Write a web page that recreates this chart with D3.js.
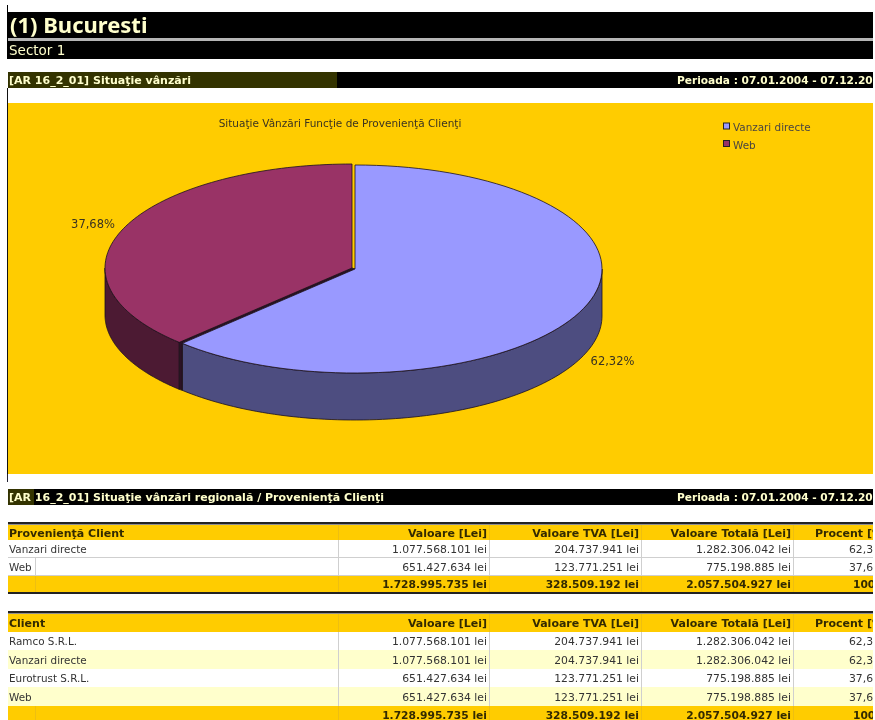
<!DOCTYPE html>
<html><head><meta charset="utf-8">
<script src="https://cdn.jsdelivr.net/npm/d3@7"></script>
<style>html,body{margin:0;background:#fff}svg{display:block;filter:blur(.4px)}text{white-space:pre}</style>
</head><body><div id="c"></div>
<script>
const sliceNames = ["Vanzari directe", "Web"];
const sliceValues = [1077568101, 651427634];
const sliceLabels = ["62,32%", "37,68%"];
const topColors = ["#9999ff", "#993366"];
const wallColors = ["#4d4d80", "#4c1a33"];
const chartTitle = "Situaţie Vânzări Funcţie de Provenienţă Clienţi";
const columnHeads = ["Valoare [Lei]", "Valoare TVA [Lei]", "Valoare Totală [Lei]", "Procent [%]"];
const table1Head = "Provenienţă Client";
const table1Rows = [
  ["Vanzari directe", "1.077.568.101 lei", "204.737.941 lei", "1.282.306.042 lei", "62,32%"],
  ["Web", "651.427.634 lei", "123.771.251 lei", "775.198.885 lei", "37,68%"]
];
const table2Head = "Client";
const table2Rows = [
  ["Ramco S.R.L.", "1.077.568.101 lei", "204.737.941 lei", "1.282.306.042 lei", "62,32%"],
  ["Vanzari directe", "1.077.568.101 lei", "204.737.941 lei", "1.282.306.042 lei", "62,32%"],
  ["Eurotrust S.R.L.", "651.427.634 lei", "123.771.251 lei", "775.198.885 lei", "37,68%"],
  ["Web", "651.427.634 lei", "123.771.251 lei", "775.198.885 lei", "37,68%"]
];
const totals = ["1.728.995.735 lei", "328.509.192 lei", "2.057.504.927 lei", "100,00%"];
const period = "Perioada : 07.01.2004 - 07.12.2004";

const W = 875, H = 720, R = 873, L = 8;
const svg = d3.select("#c").append("svg").attr("width", W).attr("height", H);
svg.append("defs").append("clipPath").attr("id", "page").append("rect")
  .attr("x", 0).attr("y", 0).attr("width", R).attr("height", H);
const g = svg.append("g").attr("clip-path", "url(#page)");
const dv = "'DejaVu Sans',Verdana,sans-serif";

function rect(x, y, w, h, fill) {
  g.append("rect").attr("x", x).attr("y", y).attr("width", w).attr("height", h).attr("fill", fill);
}
function vline(x, y1, y2, c) { rect(x, y1, 1, y2 - y1, c); }
function text(t, x, y, o = {}) {
  return g.append("text").attr("x", x).attr("y", y).text(t)
    .attr("font-family", o.family || dv).attr("font-size", o.size || 10.4)
    .attr("font-weight", o.weight || "normal").attr("fill", o.fill || "#333")
    .attr("text-anchor", o.anchor || "start");
}

// Header bands
vline(7, 5, 59, "#000");
rect(L, 12, W, 26, "#000");
rect(L, 38, W, 3, "#b5b5b5");
rect(L, 41, W, 18, "#000");
text("(1) Bucuresti", 10, 33, {family: "'Noto Sans',sans-serif", weight: "bold", size: 22, fill: "#ffffcc"});
text("Sector 1", 9, 55, {size: 13.5, fill: "#ffffcc"});

const bandStyle = {weight: "bold", size: 11, fill: "#ffffcc"};
const periodStyle = {weight: "bold", size: 10.6, fill: "#ffffcc"};
rect(L, 72, W, 16, "#000");
rect(L, 72, 329, 16, "#333300");
text("[AR 16_2_01] Situaţie vânzări", 9, 84, bandStyle);
text(period, 677, 84, periodStyle);

// Chart panel
vline(7, 88, 476, "#111");
rect(L, 103, R - L, 371, "#ffcc00");
text(chartTitle, 340, 127, {anchor: "middle", size: 10.5, fill: "#3a3320"});

// 3D pie
const rx = 247, ry = 104, depth = 47;
const cx = 355, cy = 269;
const offs = [[0, 0], [-3, -1]];
const pie = d3.pie().sort(null).startAngle(0).endAngle(2 * Math.PI)(sliceValues);
const px = d3.scaleLinear().domain([-1, 1]).range([-rx, rx]);
const py = d3.scaleLinear().domain([-1, 1]).range([-ry, ry]);
const ptAt = (a, i, dz = 0) => [cx + offs[i][0] + px(Math.sin(a)), cy + offs[i][1] + py(-Math.cos(a)) + dz];
const line = d3.line();
function arcPts(a0, a1, i, dz) {
  const n = 90;
  return d3.range(n + 1).map(k => ptAt(a0 + (a1 - a0) * k / n, i, dz));
}
const pieG = g.append("g").attr("stroke", "#1a1020").attr("stroke-width", .8).attr("stroke-linejoin", "round");
pie.forEach((d, i) => {
  const a0 = Math.max(d.startAngle, Math.PI / 2), a1 = Math.min(d.endAngle, 3 * Math.PI / 2);
  const pts = arcPts(a0, a1, i, 0).concat(arcPts(a1, a0, i, depth));
  pieG.append("path").attr("d", line(pts) + "Z").attr("fill", wallColors[i]);
});
const cutA = pie[0].endAngle;
const c0 = ptAt(cutA, 0), c1 = ptAt(cutA, 1);
const cc0 = [cx + offs[0][0], cy + offs[0][1]], cc1 = [cx + offs[1][0], cy + offs[1][1]];
pieG.append("path").attr("fill", "#2b1224")
  .attr("d", line([cc1, c1, [c1[0], c1[1] + depth], [c0[0], c0[1] + depth], c0, cc0]) + "Z");
pie.forEach((d, i) => {
  const pts = [[cx + offs[i][0], cy + offs[i][1]]].concat(arcPts(d.startAngle, d.endAngle, i, 0));
  pieG.append("path").attr("d", line(pts) + "Z").attr("fill", topColors[i]);
});
text(sliceLabels[0], 612.5, 365, {anchor: "middle", size: 11.5, fill: "#3a3320"});
text(sliceLabels[1], 93, 228, {anchor: "middle", size: 11.5, fill: "#3a3320"});

// Legend
sliceNames.forEach((n, i) => {
  const y = 127.5 + i * 17.5;
  g.append("rect").attr("x", 723.5).attr("y", y - 4.5).attr("width", 6).attr("height", 6)
    .attr("fill", topColors[i]).attr("stroke", "#222");
  text(n, 733, y + 3.5, {fill: "#4a4540"});
});

// Section band 2
vline(7, 474, 482, "#223");
rect(L, 489, W, 16, "#000");
rect(L, 489, 26, 16, "#333300");
text("[AR 16_2_01] Situaţie vânzări regională / Provenienţă Clienţi", 9, 501, bandStyle);
text(period, 677, 501, periodStyle);

// Tables
const colRight = [487, 639, 791];
const headStart = 815, rowStart = 849, totalStart = 853;
const seps = [338, 489, 641, 793];
const sepC = "#cfcfcf";
const hs = {weight: "bold", size: 11, fill: "#332a00"};
function table(name, rows, y0, headH, rowYs, stripes, grid) {
  rect(L, y0, R - L, 2.5, "#222");
  rect(L, y0 + 3, R - L, headH, "#ffcc00");
  const hy = y0 + 3 + headH / 2 + 4;
  text(name, 9, hy, hs);
  columnHeads.forEach((c, i) => i < 3
    ? text(c, colRight[i], hy, {...hs, anchor: "end"})
    : text(c, headStart, hy, hs));
  rows.forEach((r, i) => {
    const y = rowYs[i], h = rowYs[i + 1] - y;
    rect(L, y, R - L, h, stripes && i % 2 ? "#ffffcc" : "#fff");
    if (grid) rect(L, y + h - 1, R - L, 1, sepC);
    const ty = y + h / 2 + 4;
    r.forEach((v, k) => {
      if (k === 0) text(v, 9, ty);
      else if (k < 4) text(v, colRight[k - 1], ty, {anchor: "end", size: 10.8});
      else text(v, rowStart, ty, {size: 10.8});
    });
  });
  const tY = rowYs[rows.length], tH = rowYs[rows.length + 1] - tY;
  rect(L, tY, R - L, tH, "#ffcc00");
  const ts = {weight: "bold", size: 10.7, fill: "#332a00"};
  totals.forEach((v, i) => i < 3
    ? text(v, colRight[i], tY + tH / 2 + 4, {...ts, anchor: "end"})
    : text(v, totalStart, tY + tH / 2 + 4, ts));
  seps.forEach(x => {
    vline(x, rowYs[0], tY, sepC);
    vline(x, y0 + 3, y0 + 3 + headH, "#eebf10");
    vline(x, tY, tY + tH, "#eebf10");
  });
  vline(35, tY, tY + tH, "#eebf10");
}
table(table1Head, table1Rows, 522, 15, [540, 558, 576, 592], false, true);
vline(35, 558, 576, sepC);
rect(L, 592, R - L, 2, "#222");
table(table2Head, table2Rows, 611, 18, [632, 650, 669, 687, 706, 724], true, false);
</script></body></html>
